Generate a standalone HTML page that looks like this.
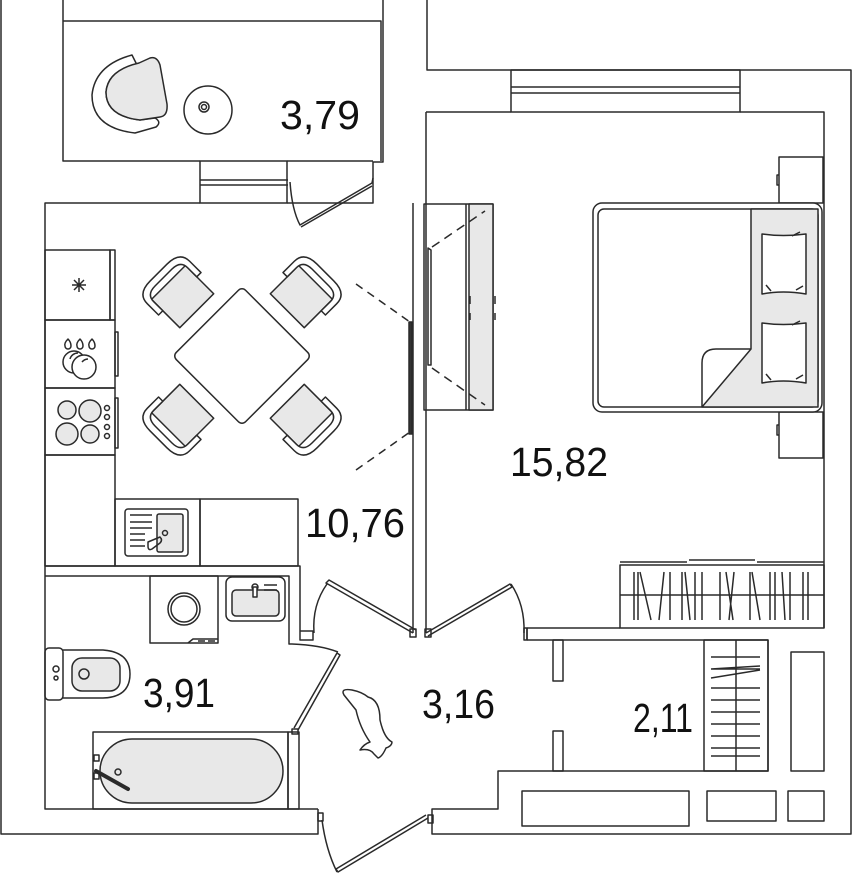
<!DOCTYPE html>
<html><head><meta charset="utf-8"><style>
html,body{margin:0;padding:0;background:#fff;}
svg{display:block}
text{font-family:"Liberation Sans",sans-serif;font-size:41px;fill:#111;}
</style></head><body>
<svg width="852" height="880" viewBox="0 0 852 880" xmlns="http://www.w3.org/2000/svg">
<g fill="none" stroke="#2a2a2a" stroke-width="1.5" stroke-linejoin="round">
<path d="M1,0 V834 H318 V809 M318,809 H45 V203 H200 M287,203 H373 V162 H383 V0 M63,0 V161 H200 M287,161 H373 M381,161 V21 H63 M427,0 V70 H851 V834 H432 V809 H498 V771 H768 V640 H527"/>
<rect x="200" y="161" width="87" height="42"/>
<line x1="200" y1="180" x2="288" y2="180"/><line x1="200" y1="185" x2="288" y2="185"/>
<path d="M290,182 Q292,210 300,225 L372,183 L373,178" />
<line x1="301" y1="227" x2="372" y2="186"/>
<path d="M413,203 V633 M426,112 V633"/>
<path d="M426,112 H511 M740,112 H824 V628"/>
<rect x="511" y="70" width="229" height="42"/>
<line x1="511" y1="87" x2="740" y2="87"/><line x1="511" y1="93" x2="740" y2="93"/>
<rect x="45" y="250" width="65" height="70"/>
<rect x="110" y="250" width="5" height="70"/>
<path d="M72,285 H86 M79,278 V292 M74,280 L84,290 M84,280 L74,290"/>
<rect x="45" y="320" width="70" height="68"/>
<rect x="115" y="332" width="3" height="44"/>
<rect x="45" y="388" width="70" height="67"/>
<rect x="115" y="398" width="3" height="50"/>
<rect x="45" y="455" width="70" height="111"/>
<rect x="115" y="499" width="85" height="67"/>
<rect x="200" y="499" width="98" height="67"/>
<rect x="125" y="509" width="63" height="47" rx="3"/>
<rect x="157" y="514" width="26" height="38" rx="2" fill="#e8e8e8"/>
<path d="M130,515 H152 M130,522 H152 M130,528 H152 M130,534 H145 M130,540 H145 M130,546 H145"/>
<circle cx="165" cy="533" r="2.5"/>
<path d="M148,542 L160,537 Q163,540 160,543 L152,549 Q148,551 148,546 Z"/>
<path d="M68,339 q-4,4 -3,7 a3,3 0 0 0 6,0 q0,-4 -3,-7 Z M80,339 q-4,4 -3,7 a3,3 0 0 0 6,0 q0,-4 -3,-7 Z M92,339 q-4,4 -3,7 a3,3 0 0 0 6,0 q0,-4 -3,-7 Z"/>
<circle cx="74" cy="362" r="11"/><circle cx="84" cy="367" r="12" fill="#fff"/>
<path d="M70,359 a8,8 0 0 1 8,-6 M82,362 a8,8 0 0 1 6,-3"/>
<circle cx="67" cy="410" r="9" fill="#e8e8e8"/><circle cx="90" cy="411" r="11" fill="#e8e8e8"/>
<circle cx="67" cy="434" r="11" fill="#e8e8e8"/><circle cx="90" cy="434" r="9" fill="#e8e8e8"/>
<circle cx="107" cy="408" r="2.5"/><circle cx="107" cy="417" r="2.5"/><circle cx="107" cy="427" r="2.5"/><circle cx="107" cy="436" r="2.5"/>
<g transform="translate(242,356) rotate(-45) translate(0,-80)">
<rect x="-24" y="-24" width="48" height="40" fill="#e8e8e8"/>
<path d="M-30,-8 V-24 Q-30,-38 -12,-38 H12 Q30,-38 30,-24 V-8 H24 V-21 Q24,-31 12,-31 H-12 Q-24,-31 -24,-21 V-8 Z" fill="#fff"/>
</g>
<g transform="translate(242,356) rotate(45) translate(0,-80)">
<rect x="-24" y="-24" width="48" height="40" fill="#e8e8e8"/>
<path d="M-30,-8 V-24 Q-30,-38 -12,-38 H12 Q30,-38 30,-24 V-8 H24 V-21 Q24,-31 12,-31 H-12 Q-24,-31 -24,-21 V-8 Z" fill="#fff"/>
</g>
<g transform="translate(242,356) rotate(135) translate(0,-80)">
<rect x="-24" y="-24" width="48" height="40" fill="#e8e8e8"/>
<path d="M-30,-8 V-24 Q-30,-38 -12,-38 H12 Q30,-38 30,-24 V-8 H24 V-21 Q24,-31 12,-31 H-12 Q-24,-31 -24,-21 V-8 Z" fill="#fff"/>
</g>
<g transform="translate(242,356) rotate(-135) translate(0,-80)">
<rect x="-24" y="-24" width="48" height="40" fill="#e8e8e8"/>
<path d="M-30,-8 V-24 Q-30,-38 -12,-38 H12 Q30,-38 30,-24 V-8 H24 V-21 Q24,-31 12,-31 H-12 Q-24,-31 -24,-21 V-8 Z" fill="#fff"/>
</g>
<rect x="193" y="307" width="98" height="98" rx="5" transform="rotate(45 242 356)" fill="#fff"/>
<path d="M356,284 L410,322 M356,470 L410,432" stroke-dasharray="8,6"/>
<rect x="409" y="322" width="3" height="112" fill="#333"/>
<path d="M132,55 Q95,65 92,95 Q92,128 135,133 L156,127 Q162,122 155,118 L140,120 Q106,116 106,92 Q108,70 137,65 Z" fill="#fff"/>
<path d="M139,63 L150,58 Q157,56 160,65 L167,104 Q168,116 160,117 L140,120 Q106,116 106,92 Q108,70 139,63 Z" fill="#e8e8e8"/>
<circle cx="208" cy="110" r="24"/><circle cx="204" cy="107" r="5"/><circle cx="204" cy="107" r="2.5"/>
<rect x="424" y="204" width="69" height="206"/>
<rect x="469" y="204" width="24" height="206" fill="#e8e8e8"/>
<line x1="466" y1="204" x2="466" y2="410"/>
<path d="M428,248 V365 H431 V250 Z"/>
<path d="M432,247 L485,211 M432,368 L485,405" stroke-dasharray="9,6"/>
<path d="M470,296 V304 M470,313 V320 M495,296 V304 M495,313 V320"/>
<rect x="779" y="157" width="44" height="46"/>
<rect x="779" y="412" width="44" height="46"/>
<path d="M779,175 h-2 v10 h2 M779,425 h-2 v10 h2"/>
<rect x="593" y="203" width="229" height="209" rx="9" fill="#fff"/>
<rect x="598" y="209" width="220" height="198" rx="6"/>
<path d="M751,209 H818 V407 H702 L751,349 Z" fill="#e8e8e8"/>
<path d="M702,407 V363 Q702,349 716,349 H751"/>
<path d="M762,234 Q783,237 806,234 V294 Q783,290 762,294 Z" fill="#fff"/>
<path d="M762,323 Q783,326 806,323 V383 Q783,379 762,383 Z" fill="#fff"/>
<path d="M792,236 l8,-4 M766,285 l5,6 M796,290 l7,-4 M792,325 l8,-4 M766,374 l5,6 M796,379 l7,-4"/>
<rect x="620" y="565" width="204" height="63"/>
<line x1="620" y1="595" x2="824" y2="595"/>
<path d="M620,562 H687 M689,560 H755 M757,562 H824"/>
<path d="M634,572 V620 M638,572 V620 M640,572 L651,620 M664,572 L659,620 M670,572 V620 M682,572 V620 M685,572 L690,620 M695,572 V620 M702,572 V620 M720,572 V620 M726,572 L733,620 M734,572 L729,620 M750,572 V620 M752,572 L760,620 M770,572 V620 M775,572 V620 M782,572 L785,620 M790,572 V620 M803,572 V620 M808,572 V620"/>
<path d="M413,633 L326,583 L329,580 L416,630"/>
<path d="M327,584 Q312,605 314,633"/>
<rect x="410" y="629" width="6" height="8"/>
<path d="M426,633 L510,584 L512,587 L428,636"/>
<path d="M511,584 Q525,605 524,633"/>
<rect x="425" y="629" width="6" height="8"/>
<path d="M527,628 H620 M527,628 V640"/>
<path d="M524,628 H527 V640 H524 Z"/>
<rect x="553" y="640" width="10" height="41"/>
<rect x="553" y="731" width="10" height="40"/>
<rect x="704" y="640" width="64" height="131"/>
<line x1="736" y1="640" x2="736" y2="771"/>
<path d="M711,657 H760 M711,669 L760,669 M711,669 L760,666 M711,678 L760,670 M711,688 H760 M711,700 H760 M711,712 H760 M711,724 H760 M711,736 H760 M711,748 H760 M711,756 H760"/>
<rect x="791" y="652" width="33" height="119"/>
<rect x="522" y="791" width="167" height="35"/>
<rect x="707" y="791" width="69" height="30"/>
<rect x="788" y="791" width="36" height="30"/>
<path d="M45,566 H300 V640 H313 V631 H300 M45,576 H289 V644 H292"/>
<rect x="150" y="576" width="68" height="67"/>
<circle cx="184" cy="609" r="16"/><circle cx="184" cy="609" r="13"/>
<path d="M188,643 L193,639 H218 M198,641 H205 M208,641 H215"/>
<rect x="226" y="577" width="59" height="44" rx="6"/>
<rect x="232" y="590" width="47" height="26" rx="4" fill="#e8e8e8"/>
<path d="M264,585 H277 M264,590 H277"/>
<circle cx="255" cy="587" r="3"/><rect x="253" y="587" width="4" height="10" fill="#fff"/>
<rect x="45" y="648" width="18" height="52" rx="4"/>
<path d="M63,650 H103 Q130,652 130,674 Q130,697 103,698 H63"/>
<rect x="72" y="658" width="48" height="33" rx="10" fill="#e8e8e8"/>
<circle cx="84" cy="674" r="5"/>
<circle cx="56" cy="669" r="3"/><circle cx="56" cy="678" r="2"/>
<rect x="93" y="732" width="195" height="77"/>
<rect x="288" y="732" width="11" height="77"/>
<rect x="100" y="739" width="183" height="64" rx="32" fill="#e8e8e8"/>
<rect x="94" y="755" width="5" height="6"/><rect x="94" y="773" width="5" height="6"/>
<path d="M96,771 L128,789" stroke-width="4" stroke-linecap="round"/>
<circle cx="118" cy="772" r="3"/>
<path d="M294,728 L337,653 L340,655 L298,730"/>
<path d="M292,644 Q320,645 338,652"/>
<rect x="292" y="729" width="6" height="5"/>
<path d="M428,818 L338,872 L336,869 L426,815"/>
<path d="M322,820 Q326,850 337,872"/>
<rect x="318" y="813" width="5" height="8"/><rect x="428" y="815" width="5" height="8"/>
<path d="M344,695 Q340,688 352,690 Q362,692 368,697 Q380,700 380,720 Q384,738 392,742 Q392,746 386,748 Q382,757 378,758 L374,754 Q370,748 360,750 Q364,744 370,742 Q360,728 356,710 Q348,700 344,695 Z"/>
</g>
<text x="280" y="129" textLength="80" lengthAdjust="spacingAndGlyphs">3,79</text>
<text x="305" y="537" textLength="100" lengthAdjust="spacingAndGlyphs">10,76</text>
<text x="510" y="476" textLength="98" lengthAdjust="spacingAndGlyphs">15,82</text>
<text x="143" y="707" textLength="72" lengthAdjust="spacingAndGlyphs">3,91</text>
<text x="422" y="718" textLength="73" lengthAdjust="spacingAndGlyphs">3,16</text>
<text x="633" y="732" textLength="60" lengthAdjust="spacingAndGlyphs">2,11</text>
</svg>
</body></html>
